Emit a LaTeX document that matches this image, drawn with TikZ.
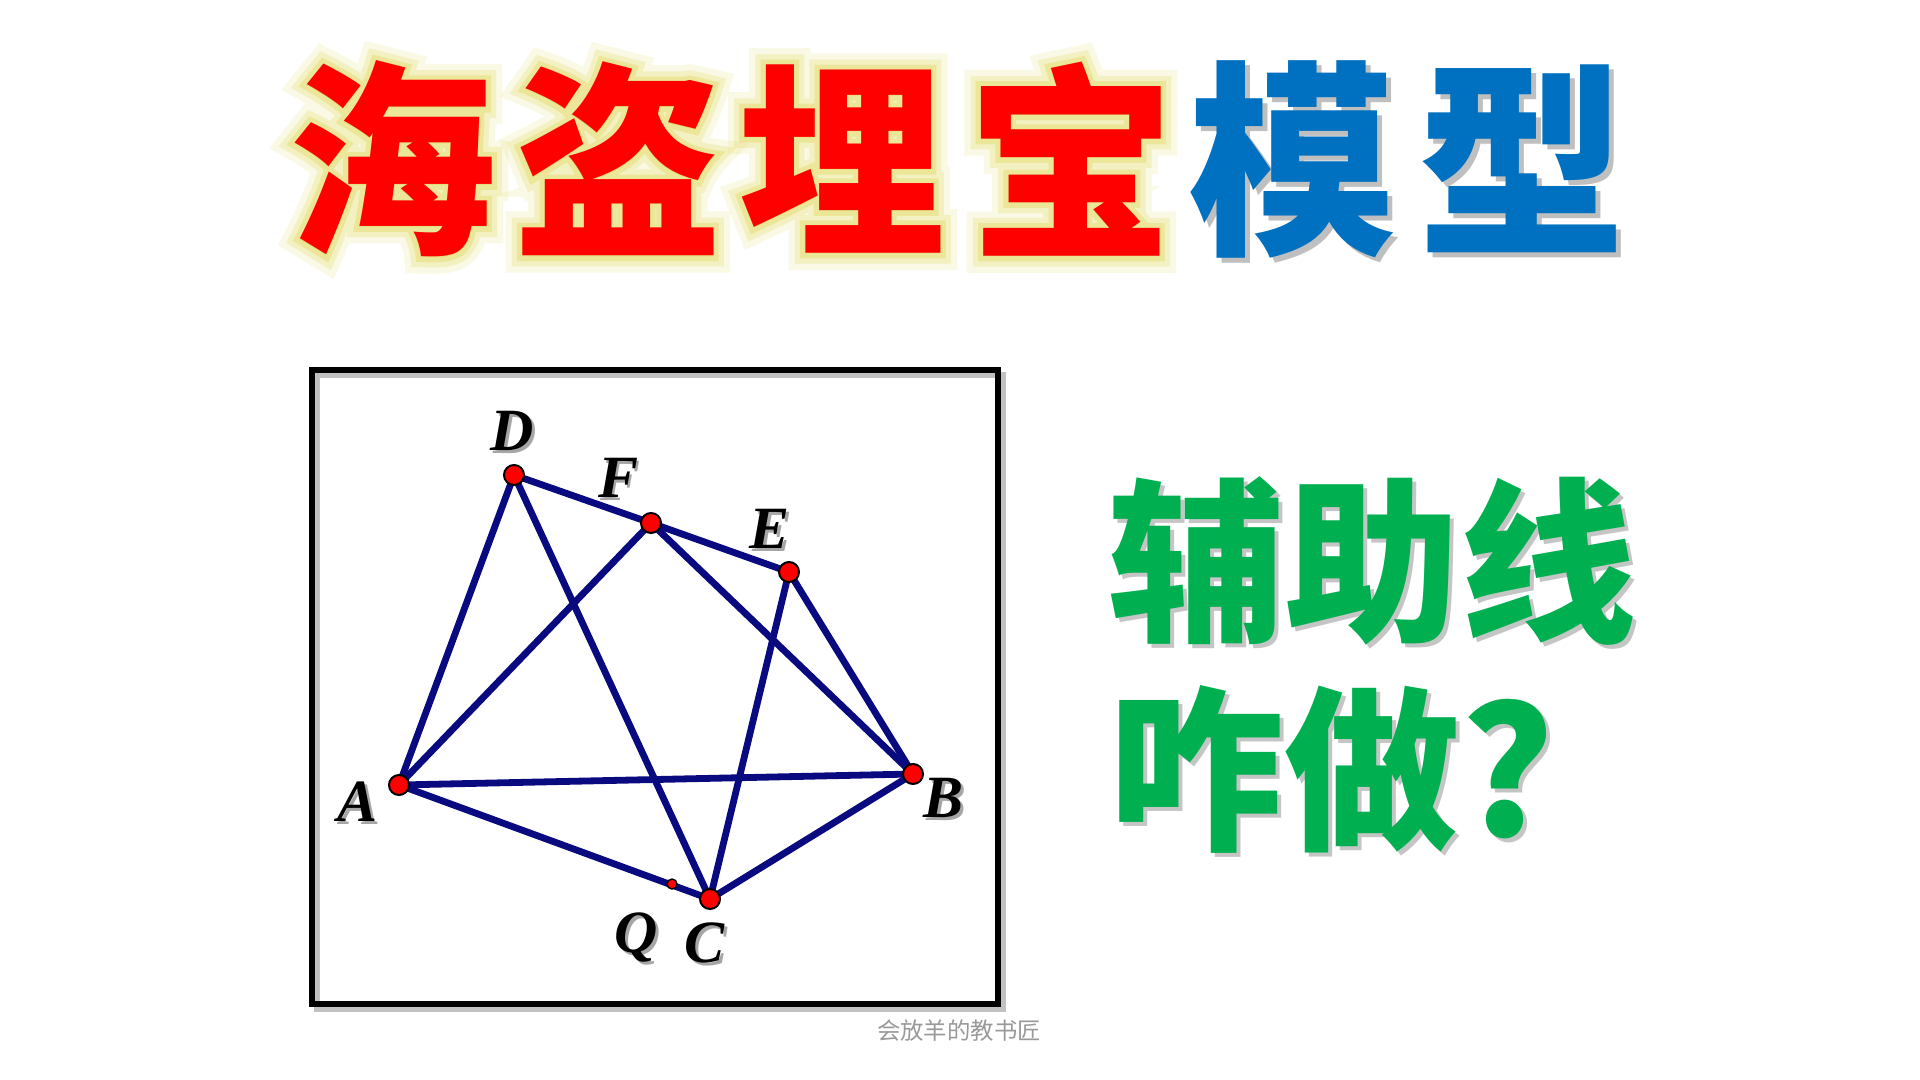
\documentclass[tikz,border=0pt]{standalone}
\usepackage{fontspec}
\setmainfont{Liberation Serif}
\newfontfamily\cjk{Noto Sans CJK SC}
\newfontfamily\cjkglowa{Noto Sans CJK SC}[FakeBold=16]
\newfontfamily\cjkglowb{Noto Sans CJK SC}[FakeBold=10]
\newfontfamily\cjkglowc{Noto Sans CJK SC}[FakeBold=5]
\definecolor{tred}{RGB}{255,0,0}
\definecolor{tblue}{RGB}{0,112,192}
\definecolor{glowc}{RGB}{225,215,90}
\definecolor{tgreen}{RGB}{0,176,80}
\definecolor{navyl}{RGB}{10,10,128}
\definecolor{ptred}{RGB}{255,0,0}
\tikzset{
  tchar/.style={inner sep=0pt, font=\cjk\bfseries\fontsize{104pt}{104pt}\selectfont},
  gtext/.style={inner sep=0pt, anchor=west, font=\cjk\bfseries\fontsize{88pt}{88pt}\selectfont},
  seg/.style={draw=navyl, line width=3.4pt, line cap=round},
  pt/.style={circle, fill=ptred, draw=black, line width=1pt, minimum size=10pt, inner sep=0pt},
  smallpt/.style={circle, fill=ptred, draw=black, line width=0.7pt, minimum size=5pt, inner sep=0pt},
  lbl/.style={inner sep=0pt, font=\bfseries\itshape\fontsize{30pt}{30pt}\selectfont},
}
\newcommand{\glowchar}[3]{%
  \node[inner sep=0pt, text=glowc, opacity=0.15, font=\cjkglowa\bfseries\fontsize{104pt}{104pt}\selectfont] (ga#1) at (#2,159) {#3};
  \node[inner sep=0pt, text=glowc, opacity=0.25, font=\cjkglowb\bfseries\fontsize{104pt}{104pt}\selectfont] (gb#1) at (#2,159) {#3};
  \node[inner sep=0pt, text=glowc, opacity=0.4, font=\cjkglowc\bfseries\fontsize{104pt}{104pt}\selectfont] (gc#1) at (#2,159) {#3};
  \node[tchar, text=tred] (#1) at (#2,159) {#3};
}
\newcommand{\bluechar}[3]{%
  \node[tchar, text=black, opacity=0.25] (sh#1) at (#2+5,164) {#3};
  \node[tchar, text=tblue] (#1) at (#2,159) {#3};
}
\begin{document}
\begin{tikzpicture}[x=0.5pt,y=-0.5pt]
\useasboundingbox (0,0) rectangle (1920,1080);
\fill[white] (0,0) rectangle (1920,1080);

% title
\glowchar{hai}{392}{海}
\glowchar{dao}{618}{盗}
\glowchar{mai}{842}{埋}
\glowchar{bao}{1071}{宝}
\bluechar{mo}{1292}{模}
\bluechar{xing}{1522}{型}

% box
\draw[black!40, line width=3.25pt, opacity=0.6] (317,375) rectangle (1003,1009);
\draw[black, line width=3.25pt] (312,370) rectangle (998,1004);

% points
\coordinate (pD) at (514,475);
\coordinate (pF) at (651,523);
\coordinate (pE) at (789,572);
\coordinate (pA) at (399,785);
\coordinate (pB) at (913,774);
\coordinate (pC) at (710,899);
\coordinate (pQ) at (672,884);

\draw[seg] (pD) -- (pF) -- (pE);
\draw[seg] (pD) -- (pA);
\draw[seg] (pD) -- (pC);
\draw[seg] (pF) -- (pA);
\draw[seg] (pF) -- (pB);
\draw[seg] (pE) -- (pB);
\draw[seg] (pE) -- (pC);
\draw[seg] (pA) -- (pB);
\draw[seg] (pA) -- (pC);
\draw[seg] (pC) -- (pB);

\node[pt] (D) at (pD) {};
\node[pt] (F) at (pF) {};
\node[pt] (E) at (pE) {};
\node[pt] (A) at (pA) {};
\node[pt] (B) at (pB) {};
\node[pt] (C) at (pC) {};
\node[smallpt] (Q) at (pQ) {};

% labels
\foreach \n/\x/\y in {D/512/431, F/618/478, E/769/529, A/358/802, B/943/798, Q/636/937, C/704/943}{
  \node[lbl, text=black!35] (sl\n) at (\x+3,\y+3) {\n};
  \node[lbl] (l\n) at (\x,\y) {\n};
}

% green text
\node[gtext, text=black!45, opacity=0.5] (s1) at (1112,565) {辅助线};
\node[gtext, text=tgreen] (t1) at (1108,561) {辅助线};
\node[gtext, text=black!45, opacity=0.5] (s2) at (1112,773) {咋做?};
\node[gtext, text=tgreen] (t2) at (1108,769) {咋做?};

% watermark
\node[inner sep=0pt, text=black!40, font=\cjk\fontsize{11.7pt}{12pt}\selectfont] (wm) at (959,1031) {会放羊的教书匠};
\end{tikzpicture}
\end{document}
